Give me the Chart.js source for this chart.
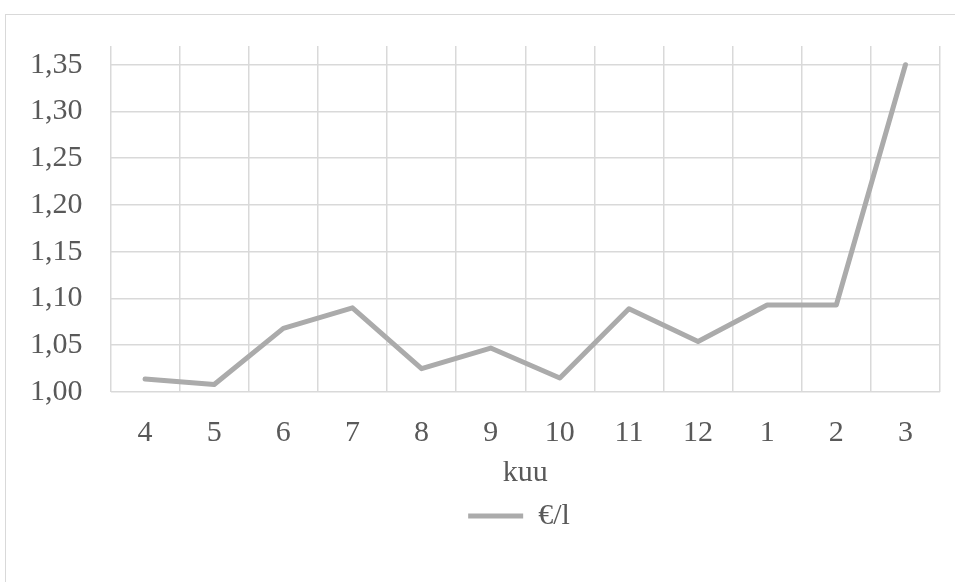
<!DOCTYPE html>
<html>
<head>
<meta charset="utf-8">
<script src="https://cdn.jsdelivr.net/npm/chart.js@4"></script>
<style>
  html, body { margin: 0; padding: 0; background: #fff; overflow: hidden; }
  #frame { position: absolute; left: 5px; top: 14px; width: 990px; height: 600px; border: 1px solid #d9d9d9; }
  #wrap { position: absolute; left: 0; top: 0; width: 955px; height: 582px; }
</style>
</head>
<body>
<div id="frame"></div>
<div id="wrap"><canvas id="myChart"></canvas></div>
<script>
// months (kuu) from April to March
const months = ["4", "5", "6", "7", "8", "9", "10", "11", "12", "1", "2", "3"]
const pricePerLitre = [1.014, 1.008, 1.068, 1.090, 1.025, 1.047, 1.015, 1.089, 1.054, 1.093, 1.093, 1.350]
const seriesName = "€/l"
const axisTitle = "kuu"

const textColor = '#595959'
const serif = "'Liberation Serif', 'Times New Roman', serif"

// excel puts the legend under the plot area, not the whole canvas
const legendShift = {
  id: 'legendShift',
  afterLayout(chart) {
    chart.legend.left += 48
    chart.legend.right += 48
  }
}

const ctx = document.getElementById('myChart').getContext('2d');
const chart = new Chart(ctx, {
  type: 'line',
  data: {
    labels: months,
    datasets: [{
      label: seriesName,
      data: pricePerLitre,
      borderColor: '#ababab',
      backgroundColor: '#ababab',
      borderWidth: 5,
      borderCapStyle: 'round',
      borderJoinStyle: 'round',
      pointRadius: 0,
      tension: 0
    }]
  },
  options: {
    responsive: true,
    maintainAspectRatio: false,
    animation: false,
    layout: { padding: { left: 2, right: 15, top: 45, bottom: 41 } },
    plugins: {
      tooltip: { enabled: false },
      legend: {
        position: 'bottom',
        labels: {
          color: textColor,
          font: { family: serif, size: 30 },
          usePointStyle: true,
          pointStyle: 'line',
          pointStyleWidth: 55,
          boxHeight: 5
        }
      }
    },
    scales: {
      x: {
        offset: true,
        grid: { offset: true, color: '#d9d9d9', lineWidth: 1.5, drawTicks: false },
        border: { display: false },
        ticks: { color: textColor, font: { family: serif, size: 30 }, padding: 23, maxRotation: 0 },
        title: { display: true, text: axisTitle, color: textColor, font: { family: serif, size: 30 }, padding: { top: -19, bottom: 0 } }
      },
      y: {
        min: 1,
        max: 1.37,
        grid: { color: '#d9d9d9', lineWidth: 1.5, drawTicks: false },
        border: { display: false },
        afterBuildTicks: axis => {
          axis.ticks = axis.ticks.filter(t => Math.abs(t.value * 20 - Math.round(t.value * 20)) < 1e-6)
        },
        ticks: {
          stepSize: 0.05,
          includeBounds: false,
          color: textColor,
          font: { family: serif, size: 30 },
          padding: 28,
          callback: v => v.toFixed(2).replace('.', ',')
        }
      }
    }
  },
  plugins: [legendShift]
})
</script>
</body>
</html>
